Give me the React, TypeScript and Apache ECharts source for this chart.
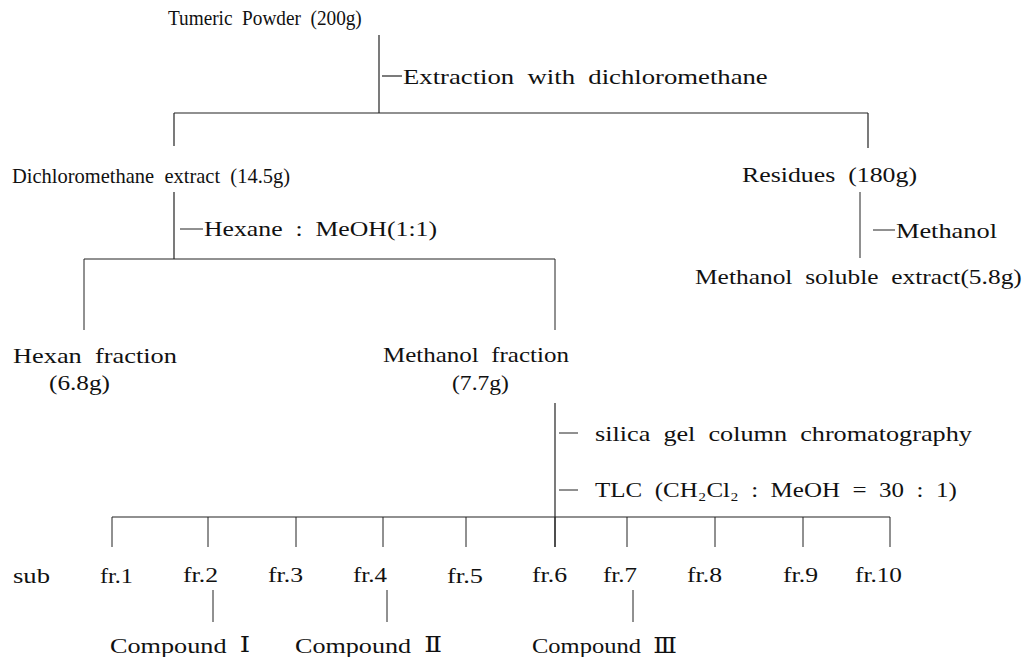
import React, { useEffect, useRef } from "react";
import * as echarts from "echarts";

// ---- content ----
const rootLabel = "Tumeric  Powder  (200g)";
const step1 = "Extraction  with  dichloromethane";
const level1Labels = ["Dichloromethane  extract  (14.5g)", "Residues  (180g)"];
const step2Left = "Hexane  :  MeOH(1:1)";
const step2Right = "Methanol";
const residueProduct = "Methanol  soluble  extract(5.8g)";
const level2Labels = ["Hexan  fraction", "Methanol  fraction"];
const level2Weights = ["(6.8g)", "(7.7g)"];
const step3 = ["silica  gel  column  chromatography", "TLC  (CH\u2082Cl\u2082  :  MeOH  =  30  :  1)"];
const subLabel = "sub";
const fractions = ["fr.1", "fr.2", "fr.3", "fr.4", "fr.5", "fr.6", "fr.7", "fr.8", "fr.9", "fr.10"];
const compounds = ["Compound  \u2160", "Compound  \u2161", "Compound  \u2162"];

// ---- layout (pixels): [left, right, centerY] ----
const rootBox = [168, 362, 18];
const step1Box = [403, 768, 76];
const level1Boxes = [[12, 290, 176], [742, 917, 175]];
const step2LeftBox = [204, 437, 229];
const step2RightBox = [896, 997, 230];
const residueBox = [695, 1022, 277];
const level2Boxes = [[13, 177, 355], [383, 569, 355]];
const level2WeightBoxes = [[49, 110, 383], [452, 509, 383]];
const step3Boxes = [[595, 972, 433], [595, 957, 490]];
const subBox = [13, 50, 575];
const fracBoxes = [
  [100, 133], [183, 218], [268, 303], [353, 387], [447, 483],
  [532, 567], [603, 637], [687, 722], [783, 818], [855, 902],
];
const fracY = 575;
const fracX = [112, 208, 296, 383, 466, 555, 627, 715, 803, 890];
const compLineX = [213, 387, 633];
const compBoxes = [[110, 250], [295, 442], [532, 677]];
const compY = 645;

const FAMILY = "'Liberation Serif', 'Times New Roman', serif";
const ROMAN_FAMILY = "'DejaVu Serif', serif";
const SIZE = 22;
const INK = "#111";

let ctx: CanvasRenderingContext2D | null = null;
function measure(text: string, size: number, family: string) {
  if (!ctx) ctx = document.createElement("canvas").getContext("2d");
  if (!ctx) return text.length * size * 0.5;
  ctx.font = `${size}px ${family}`;
  return ctx.measureText(text).width;
}

const ROMAN = /[\u2160-\u216F]+/g;

function fitText(text: string, box: number[]) {
  const [x1, x2, y] = box;
  const romans = text.match(ROMAN) || [];
  const plain = text.replace(ROMAN, "");
  let w = measure(plain, SIZE, FAMILY);
  romans.forEach((r) => (w += measure(r, SIZE, ROMAN_FAMILY)));
  const sx = (x2 - x1) / w;
  const shown = romans.length ? text.replace(ROMAN, (m) => `{r|${m}}`) : text;
  return {
    type: "text",
    x: x1,
    y,
    scaleX: sx,
    style: {
      text: shown,
      font: `${SIZE}px ${FAMILY}`,
      fill: INK,
      textAlign: "left",
      align: "left",
      textVerticalAlign: "middle",
      verticalAlign: "middle",
      rich: {
        r: { fontFamily: ROMAN_FAMILY, fontSize: SIZE, fill: INK, color: INK },
      },
    },
  };
}

function ln(x1: number, y1: number, x2: number, y2: number, w = 1.2) {
  return {
    type: "line",
    shape: { x1, y1, x2, y2 },
    style: { stroke: "#222", lineWidth: w },
  };
}

export default function App() {
  const ref = useRef<HTMLDivElement>(null);
  useEffect(() => {
    if (!ref.current) return;
    const chart = echarts.init(ref.current, null, { renderer: "svg" });
    const els: any[] = [];
    // root
    els.push(fitText(rootLabel, rootBox));
    els.push(ln(379, 35, 379, 113));
    els.push(ln(382, 76, 402, 76));
    els.push(fitText(step1, step1Box));
    els.push(ln(174, 113, 868, 113));
    els.push(ln(174, 113, 174, 146));
    els.push(ln(868, 113, 868, 148));
    // level 1
    els.push(fitText(level1Labels[0], level1Boxes[0]));
    els.push(fitText(level1Labels[1], level1Boxes[1]));
    // left branch
    els.push(ln(174, 192, 174, 259));
    els.push(ln(180, 229, 203, 229, 1));
    els.push(fitText(step2Left, step2LeftBox));
    els.push(ln(84, 259, 555, 259, 1));
    els.push(ln(84, 259, 84, 330, 1));
    els.push(ln(555, 259, 555, 330, 1));
    // right branch
    els.push(ln(860, 192, 860, 258, 1));
    els.push(ln(873, 230, 895, 230, 1));
    els.push(fitText(step2Right, step2RightBox));
    els.push(fitText(residueProduct, residueBox));
    // level 2
    level2Labels.forEach((l, i) => {
      els.push(fitText(l, level2Boxes[i]));
      els.push(fitText(level2Weights[i], level2WeightBoxes[i]));
    });
    // methanol fraction chain
    els.push(ln(555, 403, 555, 547));
    els.push(ln(559, 433, 578, 433, 1));
    els.push(fitText(step3[0], step3Boxes[0]));
    els.push(ln(559, 490, 578, 490, 1));
    els.push(fitText(step3[1], step3Boxes[1]));
    els.push(ln(fracX[0], 517, fracX[fracX.length - 1], 517));
    fractions.forEach((f, i) => {
      els.push(ln(fracX[i], 517, fracX[i], 547, 1));
      els.push(fitText(f, [fracBoxes[i][0], fracBoxes[i][1], fracY]));
    });
    els.push(fitText(subLabel, subBox));
    compounds.forEach((c, i) => {
      els.push(ln(compLineX[i], 590, compLineX[i], 622, 1));
      els.push(fitText(c, [compBoxes[i][0], compBoxes[i][1], compY]));
    });

    chart.setOption({
      animation: false,
      backgroundColor: "#fff",
      graphic: { elements: els },
    });
    return () => chart.dispose();
  }, []);
  return (
    <div
      ref={ref}
      style={{ position: "fixed", left: 0, top: 0, width: 1035, height: 657, background: "#fff" }}
    />
  );
}
